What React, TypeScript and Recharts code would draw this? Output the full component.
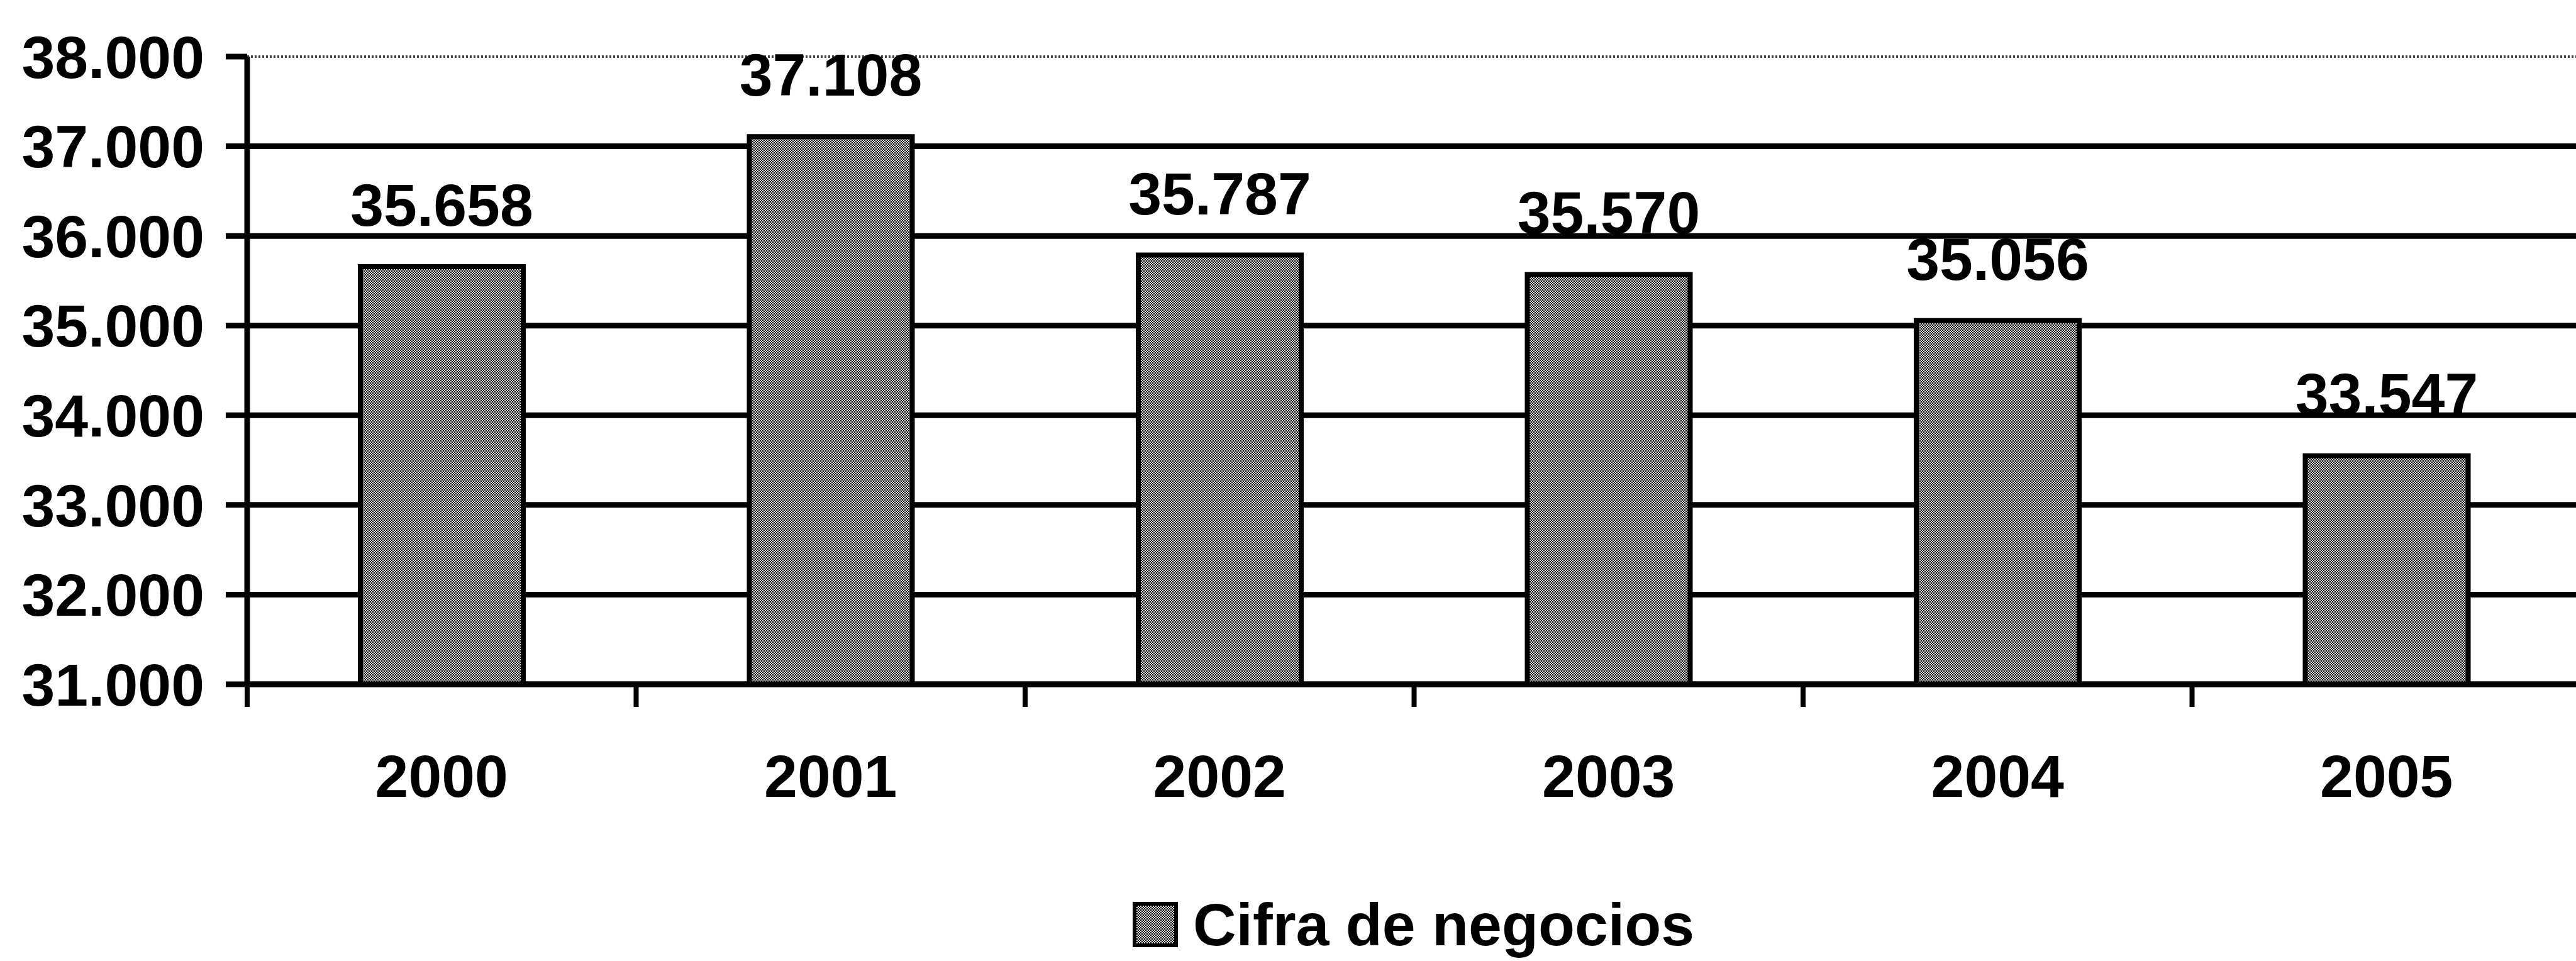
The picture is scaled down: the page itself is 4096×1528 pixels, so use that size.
import React from 'react'
import { Bar, BarChart, CartesianGrid, LabelList, Legend, XAxis, YAxis } from 'recharts'

const years = ['2000', '2001', '2002', '2003', '2004', '2005']
const cifraNegocios = [35658, 37108, 35787, 35570, 35056, 33547]
const yTicks = [31000, 32000, 33000, 34000, 35000, 36000, 37000, 38000]
const seriesName = 'Cifra de negocios'

const data = years.map((year, i) => ({ year, value: cifraNegocios[i] }))

const CHART_W = 4110
const CHART_H = 1528
const Y_WIDTH = 393
const MARGIN = { top: 90, right: 6, bottom: 240, left: 0 }
const BAND = (CHART_W - MARGIN.right - Y_WIDTH) / years.length
const X_TICK_SIZE = 36
const X_TICK_MARGIN = 76
const FONT = '"Liberation Sans", Arial, sans-serif'
const FONT_SIZE = 95

const fmt = (v: number) => (v / 1000).toFixed(3)

// top line of the plot is a thin dotted border, the rest are heavy black rules
const renderGridLine = (props: any) => {
  const { x1, y1, x2, y2, key } = props
  const top = Math.abs(y1 - MARGIN.top) < 1
  return (
    <line
      key={key}
      x1={x1}
      y1={y1}
      x2={x2}
      y2={y2}
      stroke={top ? '#444' : '#000'}
      strokeWidth={top ? 4 : 9}
      strokeDasharray={top ? '3 3' : undefined}
    />
  )
}

// category ticks sit between the bars, labels in the middle
const renderYearTick = ({ x, y, payload }: any) => {
  const lx = x - BAND / 2
  return (
    <g>
      <line x1={lx} x2={lx} y1={y - X_TICK_MARGIN - X_TICK_SIZE} y2={y - X_TICK_MARGIN} stroke="#000" strokeWidth={8} />
      <text x={x} y={y} dy="0.71em" textAnchor="middle" fill="#000" fontSize={FONT_SIZE} fontWeight="bold" fontFamily={FONT}>
        {payload.value}
      </text>
    </g>
  )
}

const renderLegend = () => (
  <div style={{ display: 'flex', alignItems: 'center' }}>
    <svg width={72} height={72} style={{ display: 'block' }}>
      <rect x={3} y={3} width={66} height={66} fill="url(#halftone)" stroke="#000" strokeWidth={6} />
    </svg>
    <span
      style={{
        marginLeft: 24,
        fontFamily: FONT,
        fontWeight: 'bold',
        fontSize: FONT_SIZE,
        lineHeight: '72px',
        color: '#000',
        whiteSpace: 'nowrap',
      }}
    >
      {seriesName}
    </span>
  </div>
)

const App = () => {
  return (
    <div style={{ position: 'absolute', left: 0, top: 0, width: 4096, height: 1528, overflow: 'hidden', background: '#fff' }}>
      <BarChart width={CHART_W} height={CHART_H} data={data} margin={MARGIN}>
        <defs>
          <pattern id="halftone" width="4" height="4" patternUnits="userSpaceOnUse">
            <rect width="4" height="4" fill="#dedede" />
            <rect x="0" y="0" width="2" height="2" fill="#000" />
            <rect x="2" y="2" width="2" height="2" fill="#000" />
          </pattern>
        </defs>
        <CartesianGrid vertical={false} horizontal={renderGridLine} />
        <XAxis
          dataKey="year"
          interval={0}
          height={200}
          axisLine={{ stroke: '#000', strokeWidth: 9 }}
          tickLine={false}
          tickSize={X_TICK_SIZE}
          tickMargin={X_TICK_MARGIN}
          tick={renderYearTick}
        />
        <YAxis
          width={Y_WIDTH}
          domain={[31000, 38000]}
          ticks={yTicks}
          interval={0}
          allowDataOverflow
          tickFormatter={fmt}
          axisLine={{ stroke: '#000', strokeWidth: 9 }}
          tickLine={{ stroke: '#000', strokeWidth: 9 }}
          tickSize={34}
          tickMargin={34}
          tick={{ fill: '#000', fontSize: FONT_SIZE, fontWeight: 'bold', fontFamily: FONT }}
        />
        <Legend
          layout="horizontal"
          verticalAlign="middle"
          align="center"
          wrapperStyle={{ left: 1801, top: 1434, width: 1100 }}
          content={renderLegend}
        />
        <Bar dataKey="value" name={seriesName} fill="url(#halftone)" stroke="#000" strokeWidth={8} barSize={259} isAnimationActive={false}>
          <LabelList
            dataKey="value"
            position="top"
            offset={65}
            formatter={fmt}
            fill="#000"
            fontSize={FONT_SIZE}
            fontWeight="bold"
            fontFamily={FONT}
          />
        </Bar>
      </BarChart>
    </div>
  )
}

export default App
